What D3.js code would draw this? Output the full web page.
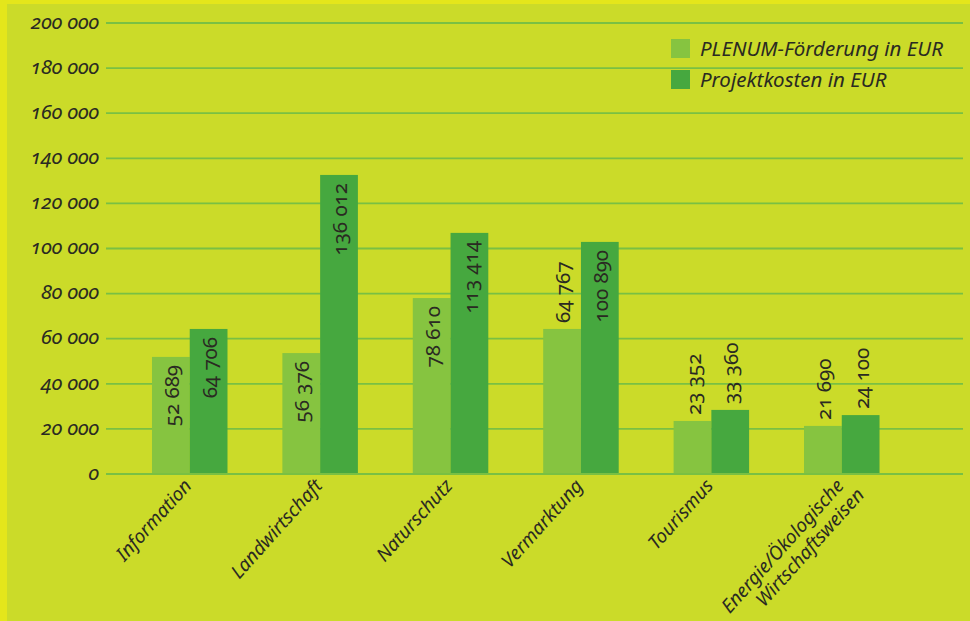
<!DOCTYPE html>
<html><head><meta charset="utf-8">
<script src="https://cdn.jsdelivr.net/npm/d3@7"></script>
<style>
html,body{margin:0;padding:0;background:#cbdb29;}
svg{display:block;font-family:"Noto Sans","Open Sans",sans-serif;font-variant-numeric:oldstyle-nums;font-feature-settings:"onum" 1;}
</style></head><body>
<svg id="chart" width="970" height="621"></svg>
<script>
const categories = ["Information","Landwirtschaft","Naturschutz","Vermarktung","Tourismus","Energie/Ökologische\nWirtschaftsweisen"];
const seriesNames = ["PLENUM-Förderung in EUR","Projektkosten in EUR"];
const foerderung = [51700,53400,77800,64100,23300,21100];
const projektkosten = [64100,132400,106700,102700,28200,25900];
const foerderungLabels = ["52 689","56 376","78 610","64 767","23 352","21 690"];
const projektkostenLabels = ["64 706","136 012","113 414","100 890","33 360","24 100"];
const foerderungInside = [true,true,true,false,false,false];
const projektkostenInside = [true,true,true,true,false,false];
const yTicks = [0,20000,40000,60000,80000,100000,120000,140000,160000,180000,200000];

const colors = ["#86c440","#46a83f"];
const textColor = "#2a2a22";
const gridColor = "#79c043";

const svg = d3.select("#chart");
svg.append("rect").attr("x",0).attr("y",0).attr("width",970).attr("height",621).attr("fill","#e4e61b");
svg.append("rect").attr("x",7).attr("y",4).attr("width",963).attr("height",617).attr("fill","#cbdb29");

const gridLeft = 106, gridRight = 963;
const y = d3.scaleLinear().domain([0,200000]).range([473.5,22.5]);
const x0 = d3.scaleBand().domain(categories).range([125.9,905.6]).paddingInner(0.421).paddingOuter(0.2);
const x1 = d3.scaleBand().domain(seriesNames).range([0,x0.bandwidth()]).padding(0);

const loc = d3.formatLocale({decimal:",",thousands:" ",grouping:[3],currency:["","€"]});
const fmt = loc.format(",");

const axis = d3.axisLeft(y).tickValues(yTicks).tickSize(-(gridRight-gridLeft)).tickPadding(7).tickFormat(fmt);
const gAxis = svg.append("g").attr("transform",`translate(${gridLeft},0)`).call(axis);
gAxis.select(".domain").remove();
gAxis.selectAll(".tick line").attr("stroke",gridColor).attr("stroke-width",1.8);
gAxis.selectAll(".tick text").attr("fill",textColor).attr("font-size",20.5).attr("font-style","italic")
  .attr("font-family",'"Noto Sans","Open Sans",sans-serif').attr("dy","0.28em");

const data = categories.map((c,i)=>({
  cat:c,
  vals:[
    {s:seriesNames[0],v:foerderung[i],label:foerderungLabels[i],inside:foerderungInside[i]},
    {s:seriesNames[1],v:projektkosten[i],label:projektkostenLabels[i],inside:projektkostenInside[i]}
  ]
}));

const groups = svg.append("g").selectAll("g").data(data).join("g")
  .attr("transform",d=>`translate(${x0(d.cat)},0)`);
groups.selectAll("rect").data(d=>d.vals).join("rect")
  .attr("x",d=>x1(d.s)).attr("y",d=>y(d.v))
  .attr("width",x1.bandwidth()).attr("height",d=>y(0)-y(d.v))
  .attr("fill",(d,i)=>colors[i]);

groups.selectAll("text").data(d=>d.vals).join("text")
  .attr("transform",d=>{
    const cx = x1(d.s)+x1.bandwidth()/2+1;
    const ty = d.inside ? y(d.v)+8 : y(d.v)-6;
    return `translate(${cx},${ty}) rotate(-90)`;
  })
  .attr("text-anchor",d=>d.inside?"end":"start")
  .attr("dy","0.35em")
  .attr("font-size",20.5)
  .attr("fill",textColor)
  .text(d=>d.label);

svg.append("line").attr("x1",gridLeft).attr("x2",gridRight).attr("y1",y(0)+0.5).attr("y2",y(0)+0.5)
  .attr("stroke",gridColor).attr("stroke-width",1.8);

const catG = svg.append("g").selectAll("text").data(categories).join("text")
  .attr("transform",d=>`translate(${x0(d)+x0.bandwidth()/2+3},${y(0)+13}) rotate(-48)`)
  .attr("text-anchor","end")
  .attr("font-size",19).attr("font-style","italic").attr("fill",textColor);
catG.each(function(d){
  const lines = d.split("\n");
  d3.select(this).selectAll("tspan").data(lines).join("tspan")
    .attr("x",(l,i)=>i*7).attr("dy",(l,i)=>i===0?0:"1.12em").text(l=>l);
});

const leg = svg.append("g").attr("transform","translate(671,39)");
seriesNames.forEach((s,i)=>{
  leg.append("rect").attr("x",0).attr("y",i*31).attr("width",19).attr("height",19).attr("fill",colors[i]);
  leg.append("text").attr("x",29).attr("y",i*31+9.5).attr("dy","0.35em")
    .attr("font-size",20.5).attr("font-style","italic").attr("fill",textColor).text(s);
});
</script>
</body></html>
